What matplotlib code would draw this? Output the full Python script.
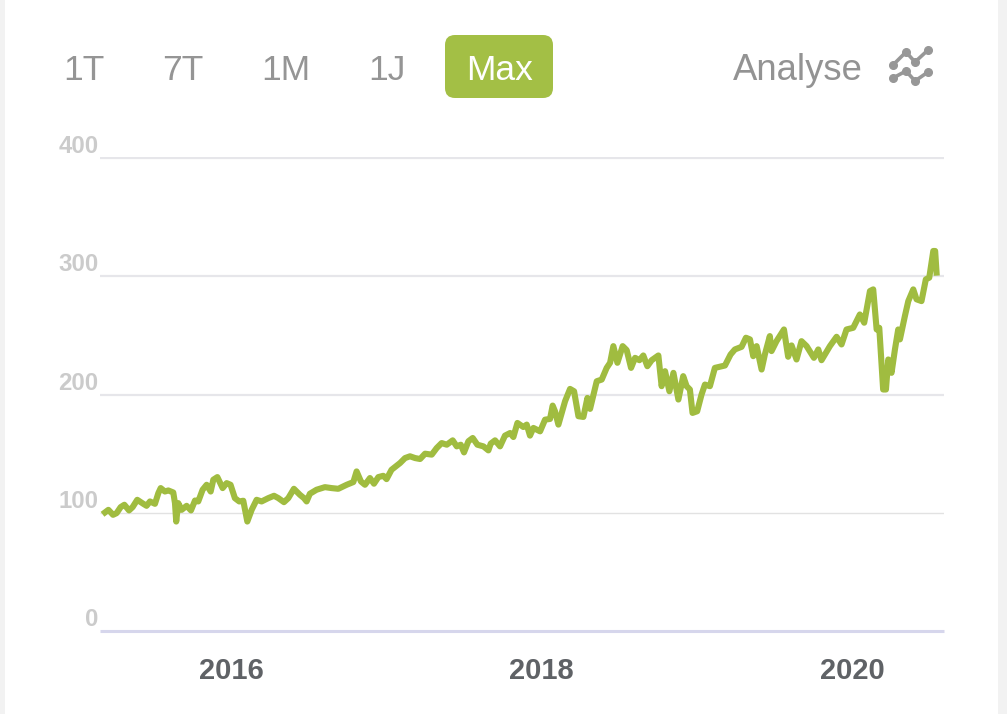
import matplotlib
matplotlib.use("Agg")
import matplotlib.pyplot as plt
from matplotlib.patches import FancyBboxPatch, Rectangle

plt.rcParams["font.family"] = ["Liberation Sans", "DejaVu Sans"]

years = [
    2015.188, 2015.21, 2015.24, 2015.263, 2015.289, 2015.313, 2015.343, 2015.366, 2015.396, 2015.435,
    2015.456, 2015.478, 2015.51, 2015.532, 2015.547, 2015.574, 2015.596, 2015.628, 2015.639, 2015.647,
    2015.66, 2015.682, 2015.714, 2015.742, 2015.768, 2015.789, 2015.817, 2015.843, 2015.869, 2015.886,
    2015.912, 2015.946, 2015.972, 2015.997, 2016.025, 2016.053, 2016.079, 2016.105, 2016.133, 2016.165,
    2016.197, 2016.24, 2016.277, 2016.305, 2016.341, 2016.369, 2016.405, 2016.444, 2016.47, 2016.487,
    2016.508, 2016.551, 2016.605, 2016.648, 2016.691, 2016.745, 2016.788, 2016.809, 2016.837, 2016.863,
    2016.895, 2016.921, 2016.949, 2016.981, 2017.002, 2017.034, 2017.089, 2017.121, 2017.153, 2017.186,
    2017.218, 2017.25, 2017.293, 2017.325, 2017.357, 2017.39, 2017.428, 2017.454, 2017.48, 2017.501,
    2017.529, 2017.557, 2017.587, 2017.626, 2017.658, 2017.673, 2017.701, 2017.733, 2017.765, 2017.798,
    2017.819, 2017.845, 2017.883, 2017.905, 2017.926, 2017.948, 2017.991, 2018.023, 2018.055, 2018.072,
    2018.087, 2018.109, 2018.152, 2018.184, 2018.21, 2018.238, 2018.27, 2018.296, 2018.313, 2018.356,
    2018.388, 2018.42, 2018.442, 2018.463, 2018.489, 2018.523, 2018.549, 2018.577, 2018.603, 2018.631,
    2018.656, 2018.682, 2018.71, 2018.753, 2018.774, 2018.796, 2018.824, 2018.85, 2018.882, 2018.913,
    2018.935, 2018.956, 2018.973, 2019.003, 2019.031, 2019.053, 2019.085, 2019.117, 2019.182, 2019.218,
    2019.246, 2019.289, 2019.317, 2019.343, 2019.364, 2019.386, 2019.418, 2019.439, 2019.471, 2019.482,
    2019.514, 2019.562, 2019.589, 2019.611, 2019.643, 2019.675, 2019.708, 2019.755, 2019.783, 2019.804,
    2019.858, 2019.901, 2019.933, 2019.965, 2020.008, 2020.051, 2020.079, 2020.116, 2020.137, 2020.159,
    2020.176, 2020.201, 2020.219, 2020.234, 2020.255, 2020.277, 2020.298, 2020.309, 2020.341, 2020.363,
    2020.395, 2020.416, 2020.448, 2020.476, 2020.498, 2020.524, 2020.536, 2020.545,
]
values = [
    100.3, 102.5, 98.3, 99.7, 104.8, 106.8, 102, 104.8, 111, 107.6,
    105.9, 109.6, 107.6, 116.7, 120.9, 118, 118.9, 117.2, 108.2, 92.6,
    108.2, 102.5, 105.9, 102, 110.4, 109.6, 119.5, 123.7, 118, 128,
    130.2, 120.9, 125.1, 123.7, 112.4, 109.6, 110.2, 92.6, 102.5, 111,
    109.6, 112.4, 114.4, 112.4, 109, 112.4, 120.3, 115.2, 112.4, 109.6,
    116.1, 119.5, 121.7, 120.9, 120.3, 123.7, 126, 135, 126.5, 123.7,
    129.4, 124.6, 130.2, 131.3, 128.5, 136.4, 142.1, 146.3, 147.8, 146.3,
    145.5, 150, 149.2, 154.8, 159, 157.6, 161.3, 156.2, 157.6, 151.1,
    160.5, 163.3, 157.6, 156.2, 152.8, 158.5, 161.3, 156.2, 165.3, 167.5,
    164.1, 176, 172.6, 174.6, 165.3, 171.8, 168.9, 178.8, 179.4, 190.7,
    185.9, 174.6, 194.4, 204.8, 202.8, 181.7, 181.1, 197.2, 187.9, 211.3,
    212.7, 222.6, 226.9, 241, 226.9, 241, 237.6, 222.6, 231.1, 229.1,
    233.1, 224, 229.1, 233.1, 207.1, 219.8, 202.8, 218.4, 195.8, 215.6,
    207.1, 204.3, 184.5, 185.9, 200, 208.5, 207.1, 222.6, 224.6, 233.9,
    238.2, 240.4, 248.1, 246.7, 232.5, 241, 221.2, 233.9, 249.5, 236.8,
    245.2, 255.1, 232, 241.6, 229.7, 245.2, 241, 231.1, 238.2, 229.1,
    241, 248.9, 242.4, 255.1, 256.5, 267.8, 260.8, 287.6, 289, 255.1,
    256.5, 204.3, 204.3, 229.7, 218.4, 238.2, 255.1, 246.7, 266.4, 279.1,
    289, 280.6, 279.1, 297.5, 298.9, 321.5, 321.5, 303.2,
]

y_ticks = [0, 100, 200, 300, 400]
x_ticks = [2016, 2018, 2020]
buttons = ["1T", "7T", "1M", "1J"]
active_button = "Max"
analyse_label = "Analyse"

W, H = 1007, 714
fig = plt.figure(figsize=(W / 100, H / 100), dpi=100, facecolor="white")

# chrome layer in pixels, y pointing down
ui = fig.add_axes([0, 0, 1, 1], zorder=0)
ui.set_xlim(0, W)
ui.set_ylim(H, 0)
ui.axis("off")
ui.add_patch(Rectangle((0, 0), 5, H, color="#f2f2f2", lw=0))
ui.add_patch(Rectangle((998, 0), 9, H, color="#f2f2f2", lw=0))
ui.add_patch(FancyBboxPatch((453, 43), 92, 47, boxstyle="round,pad=8,rounding_size=10",
                            fc="#a3bf45", ec="none"))

for name, xc in zip(buttons, [84, 183, 286, 387]):
    ui.text(xc, 70, name, fontsize=25.5, color="#959595", ha="center", va="center")
ui.text(499.5, 70, active_button, fontsize=25.5, color="white", ha="center", va="center")
ui.text(733, 70, analyse_label, fontsize=26.3, color="#939393", ha="left", va="center")

# the little analyse icon
ui.plot([893, 906, 915, 928], [65, 52, 62, 50], color="#979797", lw=2.6, marker="o", ms=5.5)
ui.plot([893, 906, 915, 928], [78, 71, 81, 72], color="#979797", lw=2.6, marker="o", ms=5.5)

ax = fig.add_axes([100 / W, 1 - 631 / H, 844 / W, 474 / H], zorder=1)
ax.patch.set_alpha(0)
ax.plot(years, values, color="#a0bc40", lw=4.4, solid_joinstyle="round", zorder=3)
ax.set_xlim(2015.156, 2020.593)
ax.set_ylim(0, 401)
for s in ax.spines.values():
    s.set_visible(False)

ax.axhline(0, color="#d6d6ec", lw=2.2, clip_on=False, solid_capstyle="butt", zorder=1)
ax.axhline(100, color="#e2e2e2", lw=1, solid_capstyle="butt", zorder=1)
ax.axhline(200, color="#e6e6ea", lw=1.6, solid_capstyle="butt", zorder=1)
ax.axhline(300, color="#e6e6ea", lw=1.6, solid_capstyle="butt", zorder=1)
ax.axhline(400, color="#e6e6ea", lw=1.6, solid_capstyle="butt", zorder=1)

ax.set_yticks(y_ticks)
ax.set_yticklabels([str(v) for v in y_ticks], fontsize=17.3, fontweight="bold", color="#cbcbcb")
for lab in ax.get_yticklabels():
    lab.set_verticalalignment("bottom")
ax.set_xticks(x_ticks)
ax.set_xticklabels([str(v) for v in x_ticks], fontsize=21, fontweight="bold", color="#5f6266")
ax.tick_params(axis="y", length=0, pad=1)
ax.tick_params(axis="x", length=0, pad=19)

fig.savefig("out.png", dpi=100)
